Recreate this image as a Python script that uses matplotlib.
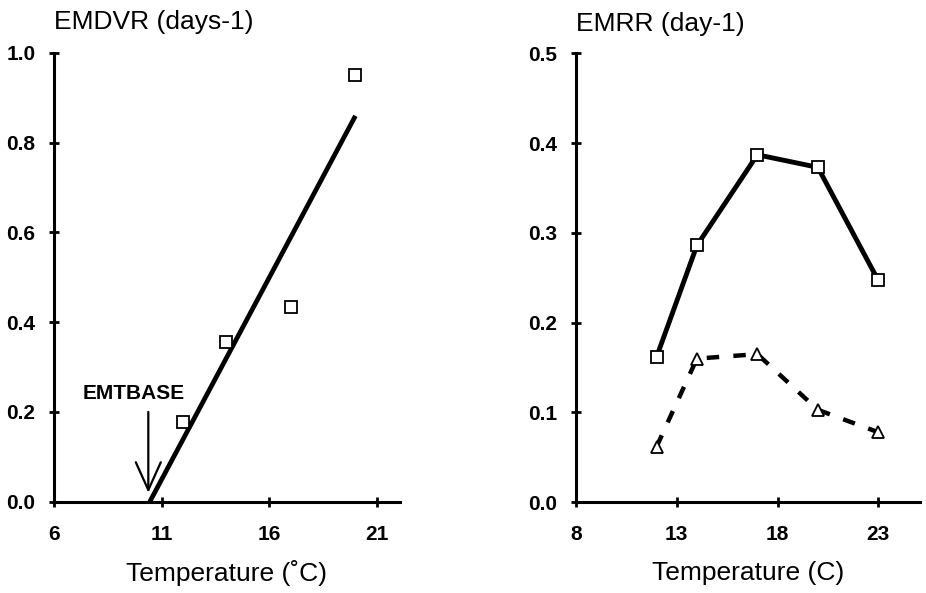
import matplotlib
matplotlib.use("Agg")
import matplotlib.pyplot as plt

plt.rcParams['font.family'] = ['Liberation Sans', 'DejaVu Sans']

# Left panel: EMDVR vs temperature
emdvr_temp = [12, 14, 17, 20]
emdvr_vals = [0.177, 0.355, 0.435, 0.95]
fit_temp = [10.45, 20.0]
fit_vals = [0.0, 0.86]
emtbase = 10.38

# Right panel: EMRR vs temperature
emrr_temp = [12, 14, 17, 20, 23]
emrr_sq = [0.162, 0.286, 0.387, 0.373, 0.247]
emrr_tri = [0.062, 0.160, 0.165, 0.103, 0.078]

left_xticks = [6, 11, 16, 21]
left_yticks = [0.0, 0.2, 0.4, 0.6, 0.8, 1.0]
right_xticks = [8, 13, 18, 23]
right_yticks = [0.0, 0.1, 0.2, 0.3, 0.4, 0.5]

fig = plt.figure(figsize=(9.26, 5.93), dpi=100)
ax1 = fig.add_axes([54/926, 1 - 501.7/593, 346/926, 448.7/593])
ax2 = fig.add_axes([576/926, 1 - 502.3/593, 344/926, 449/593])

def style(ax, xticks, yticks, xlim, ylim):
    ax.set_xlim(*xlim)
    ax.set_ylim(*ylim)
    for s in ['top', 'right']:
        ax.spines[s].set_visible(False)
    for s in ['left', 'bottom']:
        ax.spines[s].set_linewidth(2.2)
    ax.set_xticks(xticks)
    ax.set_yticks(yticks)
    ax.set_xticklabels([str(t) for t in xticks])
    ax.set_yticklabels([f"{t:.1f}" for t in yticks])
    ax.tick_params(direction='inout', length=7, width=2.0)
    ax.tick_params(axis='x', pad=13)
    ax.tick_params(axis='y', pad=10)
    for lab in ax.get_xticklabels() + ax.get_yticklabels():
        lab.set_fontweight('bold')
        lab.set_fontsize(15)
    ax.patch.set_visible(False)

style(ax1, left_xticks, left_yticks, (6, 22.07), (0, 1.0))
style(ax2, right_xticks, right_yticks, (8, 25.07), (0, 0.5))

# Left panel
ax1.plot(fit_temp, fit_vals, color='black', lw=3.4, solid_capstyle='butt', zorder=2)
ax1.plot(emdvr_temp, emdvr_vals, ls='none', marker='s', ms=8, mfc='white',
         mec='black', mew=1.3, zorder=3, clip_on=False)
ax1.annotate('', xy=(emtbase, 0.02), xytext=(emtbase, 0.2),
             arrowprops=dict(arrowstyle='->,head_length=1.0,head_width=0.45',
                             lw=1.6, color='black', mutation_scale=20,
                             shrinkA=0, shrinkB=0))
ax1.text(9.68, 0.242, 'EMTBASE', ha='center', va='center',
         fontsize=15, fontweight='bold')
ax1.text(0.0, 1.0 + 24/448.7, 'EMDVR (days-1)', transform=ax1.transAxes,
         ha='left', va='baseline', fontsize=19)
ax1.set_xlabel('Temperature (˚C)', fontsize=19, labelpad=12)

# Right panel
ax2.plot(emrr_temp, emrr_sq, color='black', lw=3.5, marker='s', ms=8,
         mfc='white', mec='black', mew=1.3, zorder=3)
ax2.plot(emrr_temp, emrr_tri, color='black', lw=3.2, ls=(0, (2.8, 3.2)),
         marker='^', ms=8, mfc='white', mec='black', mew=1.3, zorder=2)
ax2.text(0.0, 1.0 + 22/449, 'EMRR (day-1)', transform=ax2.transAxes,
         ha='left', va='baseline', fontsize=19)
ax2.set_xlabel('Temperature (C)', fontsize=19, labelpad=12)

fig.savefig('out.png', dpi=100)
